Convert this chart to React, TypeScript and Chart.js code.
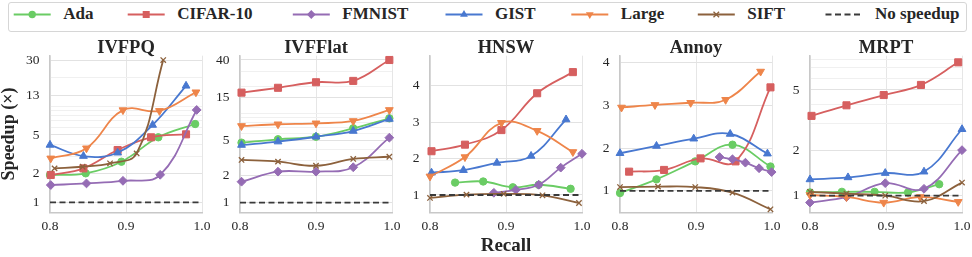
import React, { useEffect, useRef } from 'react';
import { Chart, registerables } from 'chart.js';

Chart.register(...registerables);

type Pt = [number, number]; // [recall, speedup]

// ---------------- data ----------------
const SERIES_NAMES = ['Ada', 'CIFAR-10', 'FMNIST', 'GIST', 'Large', 'SIFT'];
const BASELINE_LABEL = 'No speedup';
const BASELINE_VALUE = 1;
const PANEL_TITLES = ['IVFPQ', 'IVFFlat', 'HNSW', 'Annoy', 'MRPT'];
const X_LABEL = 'Recall';
const Y_LABEL = 'Speedup (×)';
const X_TICKS = [0.8, 0.9, 1.0];

// IVFPQ
const ivfpqAda: Pt[] = [[0.8, 1.92], [0.847, 2.0], [0.894, 2.64], [0.9425, 4.73], [0.991, 6.5]];
const ivfpqCifar: Pt[] = [[0.801, 1.92], [0.844, 2.25], [0.889, 3.49], [0.933, 4.73], [0.979, 5.08]];
const ivfpqFmnist: Pt[] = [[0.801, 1.51], [0.848, 1.57], [0.896, 1.67], [0.945, 1.93], [0.993, 9.1]];
const ivfpqGist: Pt[] = [[0.8, 3.94], [0.844, 3.02], [0.889, 3.27], [0.935, 6.35], [0.979, 16.2]];
const ivfpqLarge: Pt[] = [[0.801, 2.86], [0.848, 3.64], [0.896, 9.07], [0.944, 8.9], [0.992, 13.9]];
const ivfpqSift: Pt[] = [[0.806, 2.25], [0.843, 2.34], [0.879, 2.54], [0.914, 3.22], [0.949, 30]];
const IVFPQ_Y_TICKS = [1, 2, 5, 13, 30];

// IVFFlat
const ivfflatAda: Pt[] = [[0.802, 4.72], [0.85, 5.15], [0.9, 5.5], [0.949, 6.84], [0.9965, 8.86]];
const ivfflatCifar: Pt[] = [[0.802, 17.2], [0.85, 19.5], [0.9, 22.5], [0.949, 23.3], [0.9965, 40]];
const ivfflatFmnist: Pt[] = [[0.802, 1.72], [0.85, 2.23], [0.9, 2.23], [0.949, 2.5], [0.9965, 5.37]];
const ivfflatGist: Pt[] = [[0.802, 4.44], [0.85, 4.85], [0.9, 5.5], [0.949, 6.38], [0.9965, 8.7]];
const ivfflatLarge: Pt[] = [[0.802, 7.27], [0.85, 7.6], [0.9, 7.79], [0.949, 8.27], [0.9965, 11.0]];
const ivfflatSift: Pt[] = [[0.802, 3.02], [0.85, 2.89], [0.9, 2.6], [0.949, 3.1], [0.9965, 3.28]];
const IVFFLAT_Y_TICKS = [1, 2, 5, 15, 40];

// HNSW
const hnswAda: Pt[] = [[0.833, 1.34], [0.87, 1.37], [0.909, 1.21], [0.943, 1.28], [0.985, 1.17]];
const hnswCifar: Pt[] = [[0.802, 2.2], [0.846, 2.38], [0.894, 2.78], [0.941, 3.79], [0.988, 4.37]];
const hnswFmnist: Pt[] = [[0.884, 1.06], [0.913, 1.14], [0.943, 1.28], [0.972, 1.75], [1.0, 2.13]];
const hnswGist: Pt[] = [[0.802, 1.61], [0.844, 1.68], [0.888, 1.88], [0.933, 2.07], [0.979, 3.07]];
const hnswLarge: Pt[] = [[0.8, 1.51], [0.846, 2.04], [0.894, 2.98], [0.941, 2.76], [0.988, 2.18]];
const hnswSift: Pt[] = [[0.8, 0.92], [0.848, 1.01], [0.897, 1.03], [0.948, 0.99], [0.996, 0.78]];
const HNSW_Y_TICKS = [1, 2, 3, 4];

// Annoy
const annoyAda: Pt[] = [[0.8, 0.95], [0.848, 1.27], [0.899, 1.69], [0.948, 2.08], [0.998, 1.57]];
const annoyCifar: Pt[] = [[0.812, 1.45], [0.858, 1.49], [0.906, 1.76], [0.952, 1.69], [0.998, 3.42]];
const annoyFmnist: Pt[] = [[0.931, 1.79], [0.948, 1.74], [0.965, 1.66], [0.983, 1.53], [0.9995, 1.44]];
const annoyGist: Pt[] = [[0.8, 1.88], [0.848, 2.05], [0.897, 2.22], [0.945, 2.33], [0.994, 1.87]];
const annoyLarge: Pt[] = [[0.802, 2.95], [0.846, 3.01], [0.893, 3.06], [0.939, 3.13], [0.985, 3.79]];
const annoySift: Pt[] = [[0.8, 1.09], [0.85, 1.1], [0.899, 1.09], [0.948, 0.96], [0.998, 0.57]];
const ANNOY_Y_TICKS = [1, 2, 3, 4];

// MRPT
const mrptAda: Pt[] = [[0.8, 1.05], [0.842, 1.06], [0.885, 1.06], [0.929, 1.05], [0.97, 1.19]];
const mrptCifar: Pt[] = [[0.802, 3.37], [0.848, 3.96], [0.897, 4.63], [0.946, 5.4], [0.995, 7.62]];
const mrptFmnist: Pt[] = [[0.8, 0.9], [0.848, 0.98], [0.899, 1.21], [0.95, 1.11], [1.0, 2.0]];
const mrptGist: Pt[] = [[0.8, 1.28], [0.85, 1.32], [0.899, 1.41], [0.95, 1.44], [1.0, 2.75]];
const mrptLarge: Pt[] = [[0.8, 1.01], [0.848, 0.98], [0.897, 0.9], [0.945, 0.98], [0.995, 0.91]];
const mrptSift: Pt[] = [[0.8, 1.06], [0.848, 1.03], [0.899, 1.0], [0.95, 0.92], [1.0, 1.22]];
const MRPT_Y_TICKS = [1, 2, 5];

const PANEL_DATA: Pt[][][] = [
  [ivfpqAda, ivfpqCifar, ivfpqFmnist, ivfpqGist, ivfpqLarge, ivfpqSift],
  [ivfflatAda, ivfflatCifar, ivfflatFmnist, ivfflatGist, ivfflatLarge, ivfflatSift],
  [hnswAda, hnswCifar, hnswFmnist, hnswGist, hnswLarge, hnswSift],
  [annoyAda, annoyCifar, annoyFmnist, annoyGist, annoyLarge, annoySift],
  [mrptAda, mrptCifar, mrptFmnist, mrptGist, mrptLarge, mrptSift],
];
const PANEL_Y_TICKS = [IVFPQ_Y_TICKS, IVFFLAT_Y_TICKS, HNSW_Y_TICKS, ANNOY_Y_TICKS, MRPT_Y_TICKS];

// ---------------- style ----------------
const PANEL_LOG = [true, true, false, false, true];
const PANEL_Y_RANGE: [number, number][] = [[0.787, 33.3], [0.78, 44.7], [0.525, 4.82], [0.5, 4.16], [0.776, 8.43]];
const COLORS = ['#6acc64', '#d65f5f', '#956cb4', '#4878d0', '#ee854a', '#8c613c'];
const MARKERS = ['circle', 'rect', 'rectRot', 'triangle', 'triangle', 'crossRot'];
const MARKER_ROT = [0, 0, 0, 0, 180, 0];
const MARKER_R = [3.7, 5.0, 4.4, 4.5, 4.5, 3.8];
const BASE_COLOR = '#3a3a3a';
const TEXT_COLOR = '#262626';
const FONT = '"Liberation Serif", "Times New Roman", serif';
const MINOR_LOG = [1, 2, 3, 4, 5, 6, 7, 8, 9, 10, 20, 30, 40, 50];

const CANVAS_W = 222;
const CANVAS_H = 221;
const CANVAS_TOP = 36;
const PANEL_STEP = 190;

function gridValues(idx: number): number[] {
  const [lo, hi] = PANEL_Y_RANGE[idx];
  const major = PANEL_Y_TICKS[idx];
  if (!PANEL_LOG[idx]) return major.slice();
  const set = new Set<number>([...MINOR_LOG, ...major]);
  return Array.from(set).filter((v) => v >= lo && v <= hi).sort((a, b) => a - b);
}

function isMajor(idx: number, v: number) {
  return PANEL_Y_TICKS[idx].some((m) => Math.abs(m - v) < 1e-6);
}

function buildConfig(idx: number): any {
  const title = PANEL_TITLES[idx];
  const titlePlugin = {
    id: 'panelTitle',
    afterDraw(chart: any) {
      const { ctx, chartArea } = chart;
      ctx.save();
      ctx.font = `bold 18.5px ${FONT}`;
      ctx.fillStyle = TEXT_COLOR;
      ctx.textAlign = 'center';
      ctx.textBaseline = 'middle';
      ctx.fillText(title, (chartArea.left + chartArea.right) / 2, 48.5 - CANVAS_TOP);
      ctx.restore();
    },
  };
  const datasets: any[] = PANEL_DATA[idx].map((pts, i) => ({
    label: SERIES_NAMES[i],
    data: pts.map(([x, y]) => ({ x, y })),
    borderColor: COLORS[i],
    backgroundColor: COLORS[i],
    pointStyle: MARKERS[i],
    pointRotation: MARKER_ROT[i],
    pointRadius: MARKER_R[i],
    pointBorderWidth: i === 5 ? 1.3 : 1,
    borderWidth: 1.8,
    tension: 0.4,
    clip: false,
    order: 10 - i,
  }));
  datasets.push({
    label: BASELINE_LABEL,
    data: X_TICKS.filter((_, k) => k !== 1).map((x) => ({ x, y: BASELINE_VALUE })),
    borderColor: BASE_COLOR,
    borderDash: [6, 3.5],
    borderWidth: 1.8,
    pointRadius: 0,
    order: 1,
  });
  const grid = gridValues(idx);
  const [ymin, ymax] = PANEL_Y_RANGE[idx];
  const tickFont = { family: FONT, size: 13.5 };
  return {
    type: 'line',
    data: { datasets },
    options: {
      animation: false,
      responsive: false,
      maintainAspectRatio: false,
      events: [],
      layout: { padding: { top: 55.7 - CANVAS_TOP, right: 20, bottom: 0, left: 0 } },
      plugins: { legend: { display: false }, tooltip: { enabled: false }, title: { display: false } },
      scales: {
        x: {
          type: 'linear',
          min: 0.8,
          max: 1.0,
          afterBuildTicks: (s: any) => {
            s.ticks = X_TICKS.map((value) => ({ value }));
          },
          afterFit: (s: any) => {
            s.height = CANVAS_H - (212.3 - CANVAS_TOP);
          },
          ticks: {
            callback: (v: any) => Number(v).toFixed(1),
            font: tickFont,
            color: TEXT_COLOR,
            padding: 6.3,
            maxRotation: 0,
            autoSkip: false,
          },
          grid: { color: '#e6e6e6', lineWidth: 1, drawTicks: false },
          border: { color: '#c8c8c8', width: 1.5 },
          title:
            idx === 2
              ? { display: true, text: X_LABEL, color: TEXT_COLOR, font: { family: FONT, size: 19, weight: 'bold', lineHeight: 1.2 }, padding: 0 }
              : { display: false },
        },
        y: {
          type: PANEL_LOG[idx] ? 'logarithmic' : 'linear',
          min: ymin,
          max: ymax,
          afterBuildTicks: (s: any) => {
            s.ticks = grid.map((value) => ({ value }));
          },
          afterFit: (s: any) => {
            s.width = 50;
          },
          ticks: {
            callback: (v: any) => (isMajor(idx, Number(v)) ? String(Number(v)) : ''),
            font: tickFont,
            color: TEXT_COLOR,
            padding: 10.5,
            autoSkip: false,
          },
          grid: {
            color: (ctx: any) => (ctx.tick && isMajor(idx, ctx.tick.value) ? '#e2e2e2' : '#f0f0f0'),
            lineWidth: 1,
            drawTicks: false,
          },
          border: { color: '#c8c8c8', width: 1.5 },
          title:
            idx === 0
              ? { display: true, text: Y_LABEL, color: TEXT_COLOR, font: { family: FONT, size: 18, weight: 'bold', lineHeight: 1.0 }, padding: 0 }
              : { display: false },
        },
      },
    },
    plugins: [titlePlugin],
  };
}

function Panel({ idx }: { idx: number }) {
  const ref = useRef<HTMLCanvasElement>(null);
  useEffect(() => {
    if (!ref.current) return;
    const chart = new Chart(ref.current, buildConfig(idx));
    return () => chart.destroy();
  }, [idx]);
  return (
    <canvas
      ref={ref}
      width={CANVAS_W}
      height={CANVAS_H}
      style={{ position: 'absolute', left: PANEL_STEP * idx, top: CANVAS_TOP, width: CANVAS_W, height: CANVAS_H }}
    />
  );
}

// ---------------- legend ----------------
const LEGEND_X = [13.7, 127.7, 292.8, 445.5, 571.3, 697.8, 825.5];
const HANDLE_LEN = 37;
const TEXT_GAP = 12.5;
const LEG_CY = 14.5;

function Marker({ i, cx, cy }: { i: number; cx: number; cy: number }) {
  const c = COLORS[i];
  if (i === 0) return <circle cx={cx} cy={cy} r={3.7} fill={c} />;
  if (i === 1) return <rect x={cx - 3.5} y={cy - 3.5} width={7} height={7} fill={c} />;
  if (i === 2)
    return <polygon points={`${cx},${cy - 4.4} ${cx + 4.4},${cy} ${cx},${cy + 4.4} ${cx - 4.4},${cy}`} fill={c} />;
  if (i === 3) {
    const r = 4.5;
    return (
      <polygon points={`${cx},${cy - r} ${cx + r * 0.866},${cy + r / 2} ${cx - r * 0.866},${cy + r / 2}`} fill={c} />
    );
  }
  if (i === 4) {
    const r = 4.5;
    return (
      <polygon points={`${cx},${cy + r} ${cx + r * 0.866},${cy - r / 2} ${cx - r * 0.866},${cy - r / 2}`} fill={c} />
    );
  }
  const d = 2.8;
  return (
    <g stroke={c} strokeWidth={1.3}>
      <line x1={cx - d} y1={cy - d} x2={cx + d} y2={cy + d} />
      <line x1={cx - d} y1={cy + d} x2={cx + d} y2={cy - d} />
    </g>
  );
}

function Legend() {
  const labels = [...SERIES_NAMES, BASELINE_LABEL];
  return (
    <div style={{ position: 'absolute', left: 0, top: 0, width: 972, height: 34 }}>
      <div
        style={{
          position: 'absolute',
          left: 7.5,
          top: 1.5,
          width: 957,
          height: 28,
          border: '1px solid #d6d6d6',
          borderRadius: 3,
          background: '#fff',
        }}
      />
      <svg width={972} height={34} style={{ position: 'absolute', left: 0, top: 0 }}>
        {labels.map((_, i) => {
          const x0 = LEGEND_X[i];
          const cx = x0 + HANDLE_LEN / 2;
          if (i === 6)
            return (
              <line key={i} x1={x0} y1={LEG_CY} x2={x0 + HANDLE_LEN} y2={LEG_CY} stroke={BASE_COLOR} strokeWidth={1.8} strokeDasharray="6 3.5" />
            );
          return (
            <g key={i}>
              <line x1={x0} y1={LEG_CY} x2={x0 + HANDLE_LEN} y2={LEG_CY} stroke={COLORS[i]} strokeWidth={1.8} />
              <Marker i={i} cx={cx} cy={LEG_CY} />
            </g>
          );
        })}
      </svg>
      {labels.map((t, i) => (
        <div
          key={t}
          style={{
            position: 'absolute',
            left: LEGEND_X[i] + HANDLE_LEN + TEXT_GAP,
            top: 4.3,
            lineHeight: '20px',
            fontFamily: FONT,
            fontWeight: 'bold',
            fontSize: 17,
            color: TEXT_COLOR,
            whiteSpace: 'nowrap',
          }}
        >
          {t}
        </div>
      ))}
    </div>
  );
}

export default function App() {
  return (
    <div style={{ position: 'absolute', left: 0, top: 0, width: 972, height: 257, background: '#fff', overflow: 'hidden' }}>
      <Legend />
      {PANEL_TITLES.map((_, i) => (
        <Panel key={i} idx={i} />
      ))}
    </div>
  );
}
